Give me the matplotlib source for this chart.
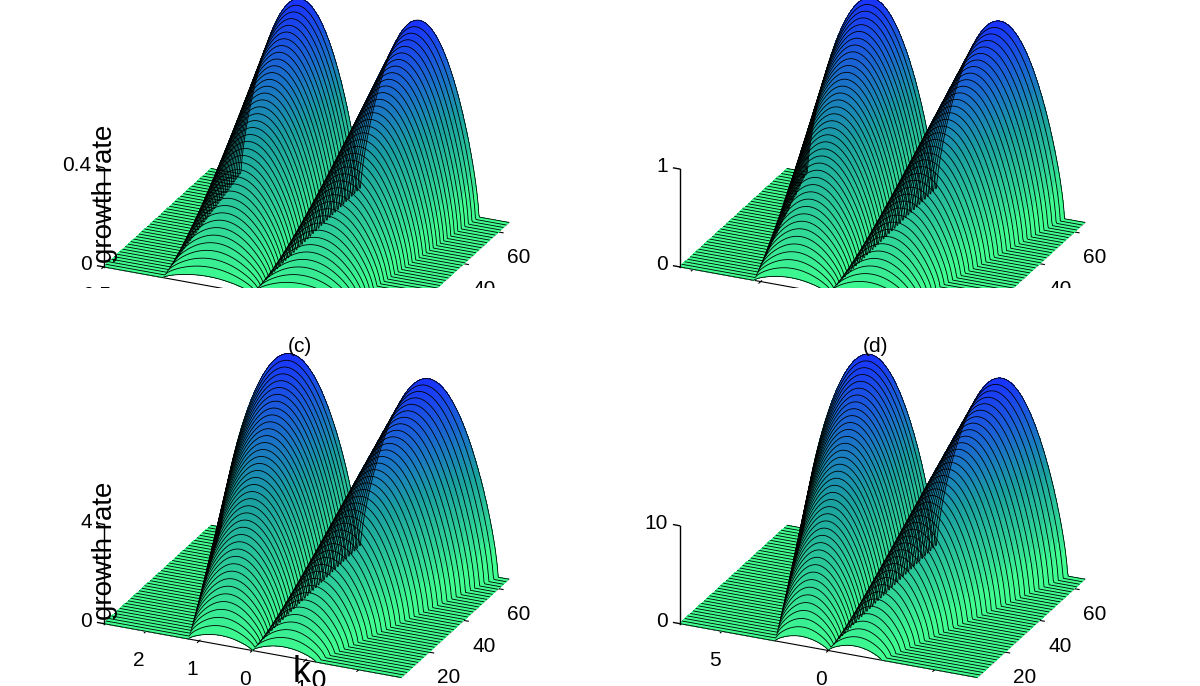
import numpy as np
import matplotlib
matplotlib.use("Agg")
import matplotlib.pyplot as plt
from matplotlib.colors import LinearSegmentedColormap

plt.rcParams['font.family'] = ['Liberation Sans', 'DejaVu Sans']

labels = ["(a)", "(b)", "(c)", "(d)"]
k_half_range = [0.5, 1.1, 2.8, 7.0]
kc_front = [0.30, 0.55, 1.2, 2.5]
kc_back = [0.40, 0.95, 2.6, 6.2]
peak_back = [0.75, 1.9, 7.5, 19.0]
z_ticks = [[0, 0.4], [0, 1], [0, 4], [0, 10]]
x_ticks = [[0.5, 0, -0.5], [1, 0.5, 0, -0.5, -1], [2, 1, 0, -1, -2], [5, 0, -5]]
n_ticks = [20, 40, 60]
n_min, n_max, n_slices = 4, 66, 40

cmap = LinearSegmentedColormap.from_list("gb", ["#40ff90", "#1aa0a0", "#1a30ff"])

fig = plt.figure(figsize=(12, 6.86), dpi=100)
positions = [[-0.06, 0.44, 0.62, 0.66], [0.42, 0.44, 0.62, 0.66],
             [-0.06, -0.08, 0.62, 0.66], [0.42, -0.08, 0.62, 0.66]]

for i in range(4):
    ax = fig.add_axes(positions[i], projection='3d', computed_zorder=False)
    ax.set_proj_type('ortho')
    R = k_half_range[i]
    k = np.linspace(-R, R, 400)
    n = np.linspace(n_min, n_max, n_slices)
    K, N = np.meshgrid(k, n)
    t = (N - n_min) / (n_max - n_min)
    kc = kc_front[i] + (kc_back[i] - kc_front[i]) * t
    amp = peak_back[i] * (0.05 + 0.95 * t**0.9)
    u = np.clip(np.abs(K) / kc, 0, 1)
    Z = amp * np.sin(np.pi * u) ** 0.7
    cols = cmap(np.clip(Z / peak_back[i], 0, 1))
    ax.plot_surface(K, N, Z, facecolors=cols, rstride=1, cstride=4,
                    linewidth=0, antialiased=False, shade=False, zorder=1)
    for j in range(n_slices):
        ax.plot(k, N[j], Z[j], color='k', lw=0.6, zorder=2)
    ax.set_xlim(R, -R)
    ax.set_ylim(n_min, n_max)
    ax.set_zlim(0, peak_back[i])
    ax.set_box_aspect((1.6, 1.3, 1.0))
    ax.view_init(elev=24, azim=-66)
    ax.grid(False)
    for a in (ax.xaxis, ax.yaxis, ax.zaxis):
        a.pane.set_visible(False)
        a.line.set_color('k')
    ax.zaxis.line.set_visible(False)
    ax.set_zticks([])
    ax.set_xticks(x_ticks[i])
    ax.set_xticklabels([f"{v:g}" for v in x_ticks[i]], fontsize=15)
    ax.set_yticks(n_ticks)
    ax.set_yticklabels([str(v) for v in n_ticks], fontsize=15)
    # manual vertical axis at the front-left corner
    zt = z_ticks[i]
    ax.plot([R, R], [n_min, n_min], [0, zt[-1]], color='k', lw=1, zorder=3)
    for v in zt:
        ax.plot([R, R + 0.04 * R], [n_min, n_min], [v, v], color='k', lw=1, zorder=3)
        ax.text(R + 0.08 * R, n_min, v, f"{v:g}", fontsize=15, ha='right', va='center')
    ax.text2D(0.5, 0.86, labels[i], transform=ax.transAxes, fontsize=15, ha='center')
    if i in (0, 2):
        ax.text2D(0.07, 0.42, "growth rate", transform=ax.transAxes, fontsize=20,
                  rotation=90, ha='center', va='center')
    if i == 2:
        ax.text2D(0.52, 0.13, "k$_0$", transform=ax.transAxes, fontsize=26, ha='center')

fig.savefig("out.png", dpi=100)
